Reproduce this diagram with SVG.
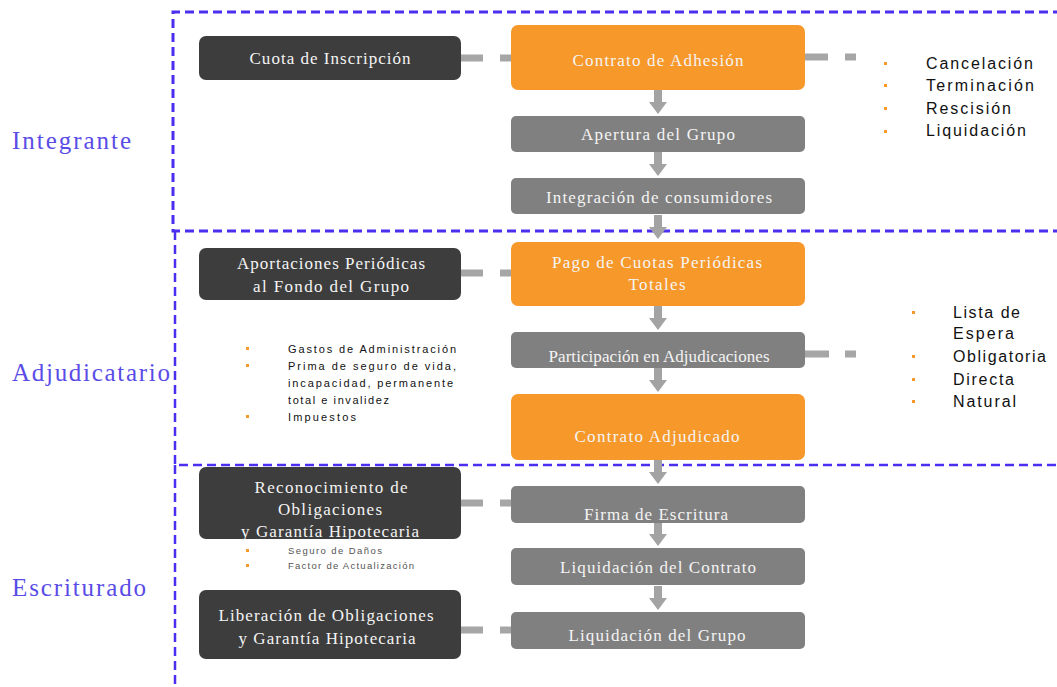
<svg xmlns="http://www.w3.org/2000/svg" width="1057" height="687" viewBox="0 0 1057 687">
<style>
.dark{fill:#3d3d3d}
.org{fill:#f7982a}
.gry{fill:#808080}
.nt{font-family:"Liberation Serif","Times New Roman",serif;font-size:17px;fill:#f4f4f4;text-anchor:middle}
.lbl{font-family:"Liberation Serif","Times New Roman",serif;font-size:25px;fill:#5a4ce6}
.li{font-family:"Liberation Sans",Arial,sans-serif;font-size:16px;fill:#111}
.ls{font-family:"Liberation Sans",Arial,sans-serif;font-size:11px;fill:#111}
.lxs{font-family:"Liberation Sans",Arial,sans-serif;font-size:9.5px;fill:#555}
.bul{fill:#f7982a}
.zone{fill:none;stroke:#4a2ff0;stroke-dasharray:9 5}
.hc{stroke:#a6a6a6;stroke-width:7;fill:none}
</style>
<defs>
<path id="arr" d="M-4,0 H4 V12 H9 L0,24 L-9,12 H-4 Z" fill="#a3a3a3"/>
<rect id="b" width="3" height="3" class="bul"/>
</defs>
<rect width="1057" height="687" fill="#fff"/>

<g id="zones">
<path class="zone" stroke-width="3" d="M1062,12 H173 V231 H1062"/>
<path class="zone" stroke-width="2.5" d="M175,231 V465 H1062"/>
<path class="zone" stroke-width="2.5" d="M175,465 V690"/>
<text class="lbl" x="12" y="149" textLength="119" lengthAdjust="spacing">Integrante</text>
<text class="lbl" x="12" y="381" textLength="158" lengthAdjust="spacing">Adjudicatario</text>
<text class="lbl" x="12" y="596" textLength="134" lengthAdjust="spacing">Escriturado</text>
</g>

<g id="connectors">
<use href="#arr" x="658" y="90"/>
<use href="#arr" x="658" y="152"/>
<use href="#arr" x="658" y="215"/>
<use href="#arr" x="658" y="306"/>
<use href="#arr" x="658" y="368"/>
<use href="#arr" x="658" y="460"/>
<use href="#arr" x="658" y="522"/>
<use href="#arr" x="658" y="586"/>
<line class="hc" x1="461" y1="58" x2="511" y2="58" stroke-dasharray="22 17"/>
<line class="hc" x1="805" y1="57" x2="856" y2="57" stroke-dasharray="23 17"/>
<line class="hc" x1="461" y1="273" x2="511" y2="273" stroke-dasharray="22 17"/>
<line class="hc" x1="805" y1="354" x2="856" y2="354" stroke-dasharray="24 16"/>
<line class="hc" x1="461" y1="503" x2="511" y2="503" stroke-dasharray="22 17"/>
<line class="hc" x1="461" y1="630" x2="511" y2="630" stroke-dasharray="22 17"/>
</g>

<g id="n-cuota"><rect class="dark" x="199" y="36" width="262" height="44" rx="7"/>
<text class="nt" x="330" y="64" textLength="161" lengthAdjust="spacing">Cuota de Inscripción</text></g>
<g id="n-contrato"><rect class="org" x="511" y="25" width="294" height="65" rx="7"/>
<text class="nt" x="658" y="66" textLength="171" lengthAdjust="spacing">Contrato de Adhesión</text></g>
<g id="n-apertura"><rect class="gry" x="511" y="116" width="294" height="36" rx="5"/>
<text class="nt" x="658" y="140" textLength="154" lengthAdjust="spacing">Apertura del Grupo</text></g>
<g id="n-integracion"><rect class="gry" x="511" y="178" width="294" height="36" rx="5"/>
<text class="nt" x="659" y="203" textLength="226" lengthAdjust="spacing">Integración de consumidores</text></g>

<g id="n-aportaciones"><rect class="dark" x="199" y="248" width="262" height="52" rx="7"/>
<text class="nt" x="331" y="269" textLength="188" lengthAdjust="spacing">Aportaciones Periódicas</text>
<text class="nt" x="331" y="292" textLength="156" lengthAdjust="spacing">al Fondo del Grupo</text></g>
<g id="n-pago"><rect class="org" x="511" y="242" width="294" height="64" rx="7"/>
<text class="nt" x="657" y="268" textLength="210" lengthAdjust="spacing">Pago de Cuotas Periódicas</text>
<text class="nt" x="657" y="290" textLength="57" lengthAdjust="spacing">Totales</text></g>
<g id="n-participacion"><rect class="gry" x="511" y="332" width="294" height="36" rx="5"/>
<text class="nt" x="659" y="362" textLength="221" lengthAdjust="spacing">Participación en Adjudicaciones</text></g>
<g id="n-adjudicado"><rect class="org" x="511" y="394" width="294" height="66" rx="7"/>
<text class="nt" x="657" y="442" textLength="165" lengthAdjust="spacing">Contrato Adjudicado</text></g>

<g id="n-reconocimiento"><rect class="dark" x="199" y="467" width="262" height="72" rx="7"/>
<text class="nt" x="331" y="493" textLength="153" lengthAdjust="spacing">Reconocimiento de</text>
<text class="nt" x="330" y="515" textLength="104" lengthAdjust="spacing">Obligaciones</text>
<text class="nt" x="330" y="537" textLength="178" lengthAdjust="spacing">y Garantía Hipotecaria</text></g>
<g id="n-firma"><rect class="gry" x="511" y="486" width="294" height="37" rx="5"/>
<text class="nt" x="656" y="520" textLength="144" lengthAdjust="spacing">Firma de Escritura</text></g>
<g id="n-liqcontrato"><rect class="gry" x="511" y="548" width="294" height="37" rx="5"/>
<text class="nt" x="658" y="573" textLength="196" lengthAdjust="spacing">Liquidación del Contrato</text></g>
<g id="n-liberacion"><rect class="dark" x="199" y="590" width="262" height="69" rx="7"/>
<text class="nt" x="326" y="621" textLength="215" lengthAdjust="spacing">Liberación de Obligaciones</text>
<text class="nt" x="327" y="644" textLength="177" lengthAdjust="spacing">y Garantía Hipotecaria</text></g>
<g id="n-liqgrupo"><rect class="gry" x="511" y="612" width="294" height="37" rx="5"/>
<text class="nt" x="657" y="641" textLength="177" lengthAdjust="spacing">Liquidación del Grupo</text></g>

<g id="list-terminacion">
<use href="#b" x="884" y="62"/><use href="#b" x="884" y="84"/><use href="#b" x="884" y="107"/><use href="#b" x="884" y="130"/>
<text class="li" x="926" y="69" textLength="107" lengthAdjust="spacing">Cancelación</text>
<text class="li" x="926" y="91" textLength="108" lengthAdjust="spacing">Terminación</text>
<text class="li" x="926" y="114" textLength="85" lengthAdjust="spacing">Rescisión</text>
<text class="li" x="926" y="136" textLength="100" lengthAdjust="spacing">Liquidación</text>
</g>
<g id="list-adjudicacion">
<use href="#b" x="912" y="311"/><use href="#b" x="912" y="355"/><use href="#b" x="912" y="378"/><use href="#b" x="912" y="400"/>
<text class="li" x="953" y="318" textLength="67" lengthAdjust="spacing">Lista de</text>
<text class="li" x="953" y="339" textLength="61" lengthAdjust="spacing">Espera</text>
<text class="li" x="953" y="362" textLength="93" lengthAdjust="spacing">Obligatoria</text>
<text class="li" x="953" y="385" textLength="61" lengthAdjust="spacing">Directa</text>
<text class="li" x="953" y="407" textLength="63" lengthAdjust="spacing">Natural</text>
</g>
<g id="list-aportaciones">
<use href="#b" x="246" y="347"/><use href="#b" x="246" y="364"/><use href="#b" x="246" y="415"/>
<text class="ls" x="288" y="353" textLength="168" lengthAdjust="spacing">Gastos de Administración</text>
<text class="ls" x="288" y="370" textLength="168" lengthAdjust="spacing">Prima de seguro de vida,</text>
<text class="ls" x="288" y="387" textLength="165" lengthAdjust="spacing">incapacidad, permanente</text>
<text class="ls" x="288" y="404" textLength="101" lengthAdjust="spacing">total e invalidez</text>
<text class="ls" x="288" y="421" textLength="68" lengthAdjust="spacing">Impuestos</text>
</g>
<g id="list-escritura">
<use href="#b" x="246" y="549"/><use href="#b" x="246" y="564"/>
<text class="lxs" x="288" y="554" textLength="94" lengthAdjust="spacing">Seguro de Daños</text>
<text class="lxs" x="288" y="569" textLength="126" lengthAdjust="spacing">Factor de Actualización</text>
</g>
</svg>
